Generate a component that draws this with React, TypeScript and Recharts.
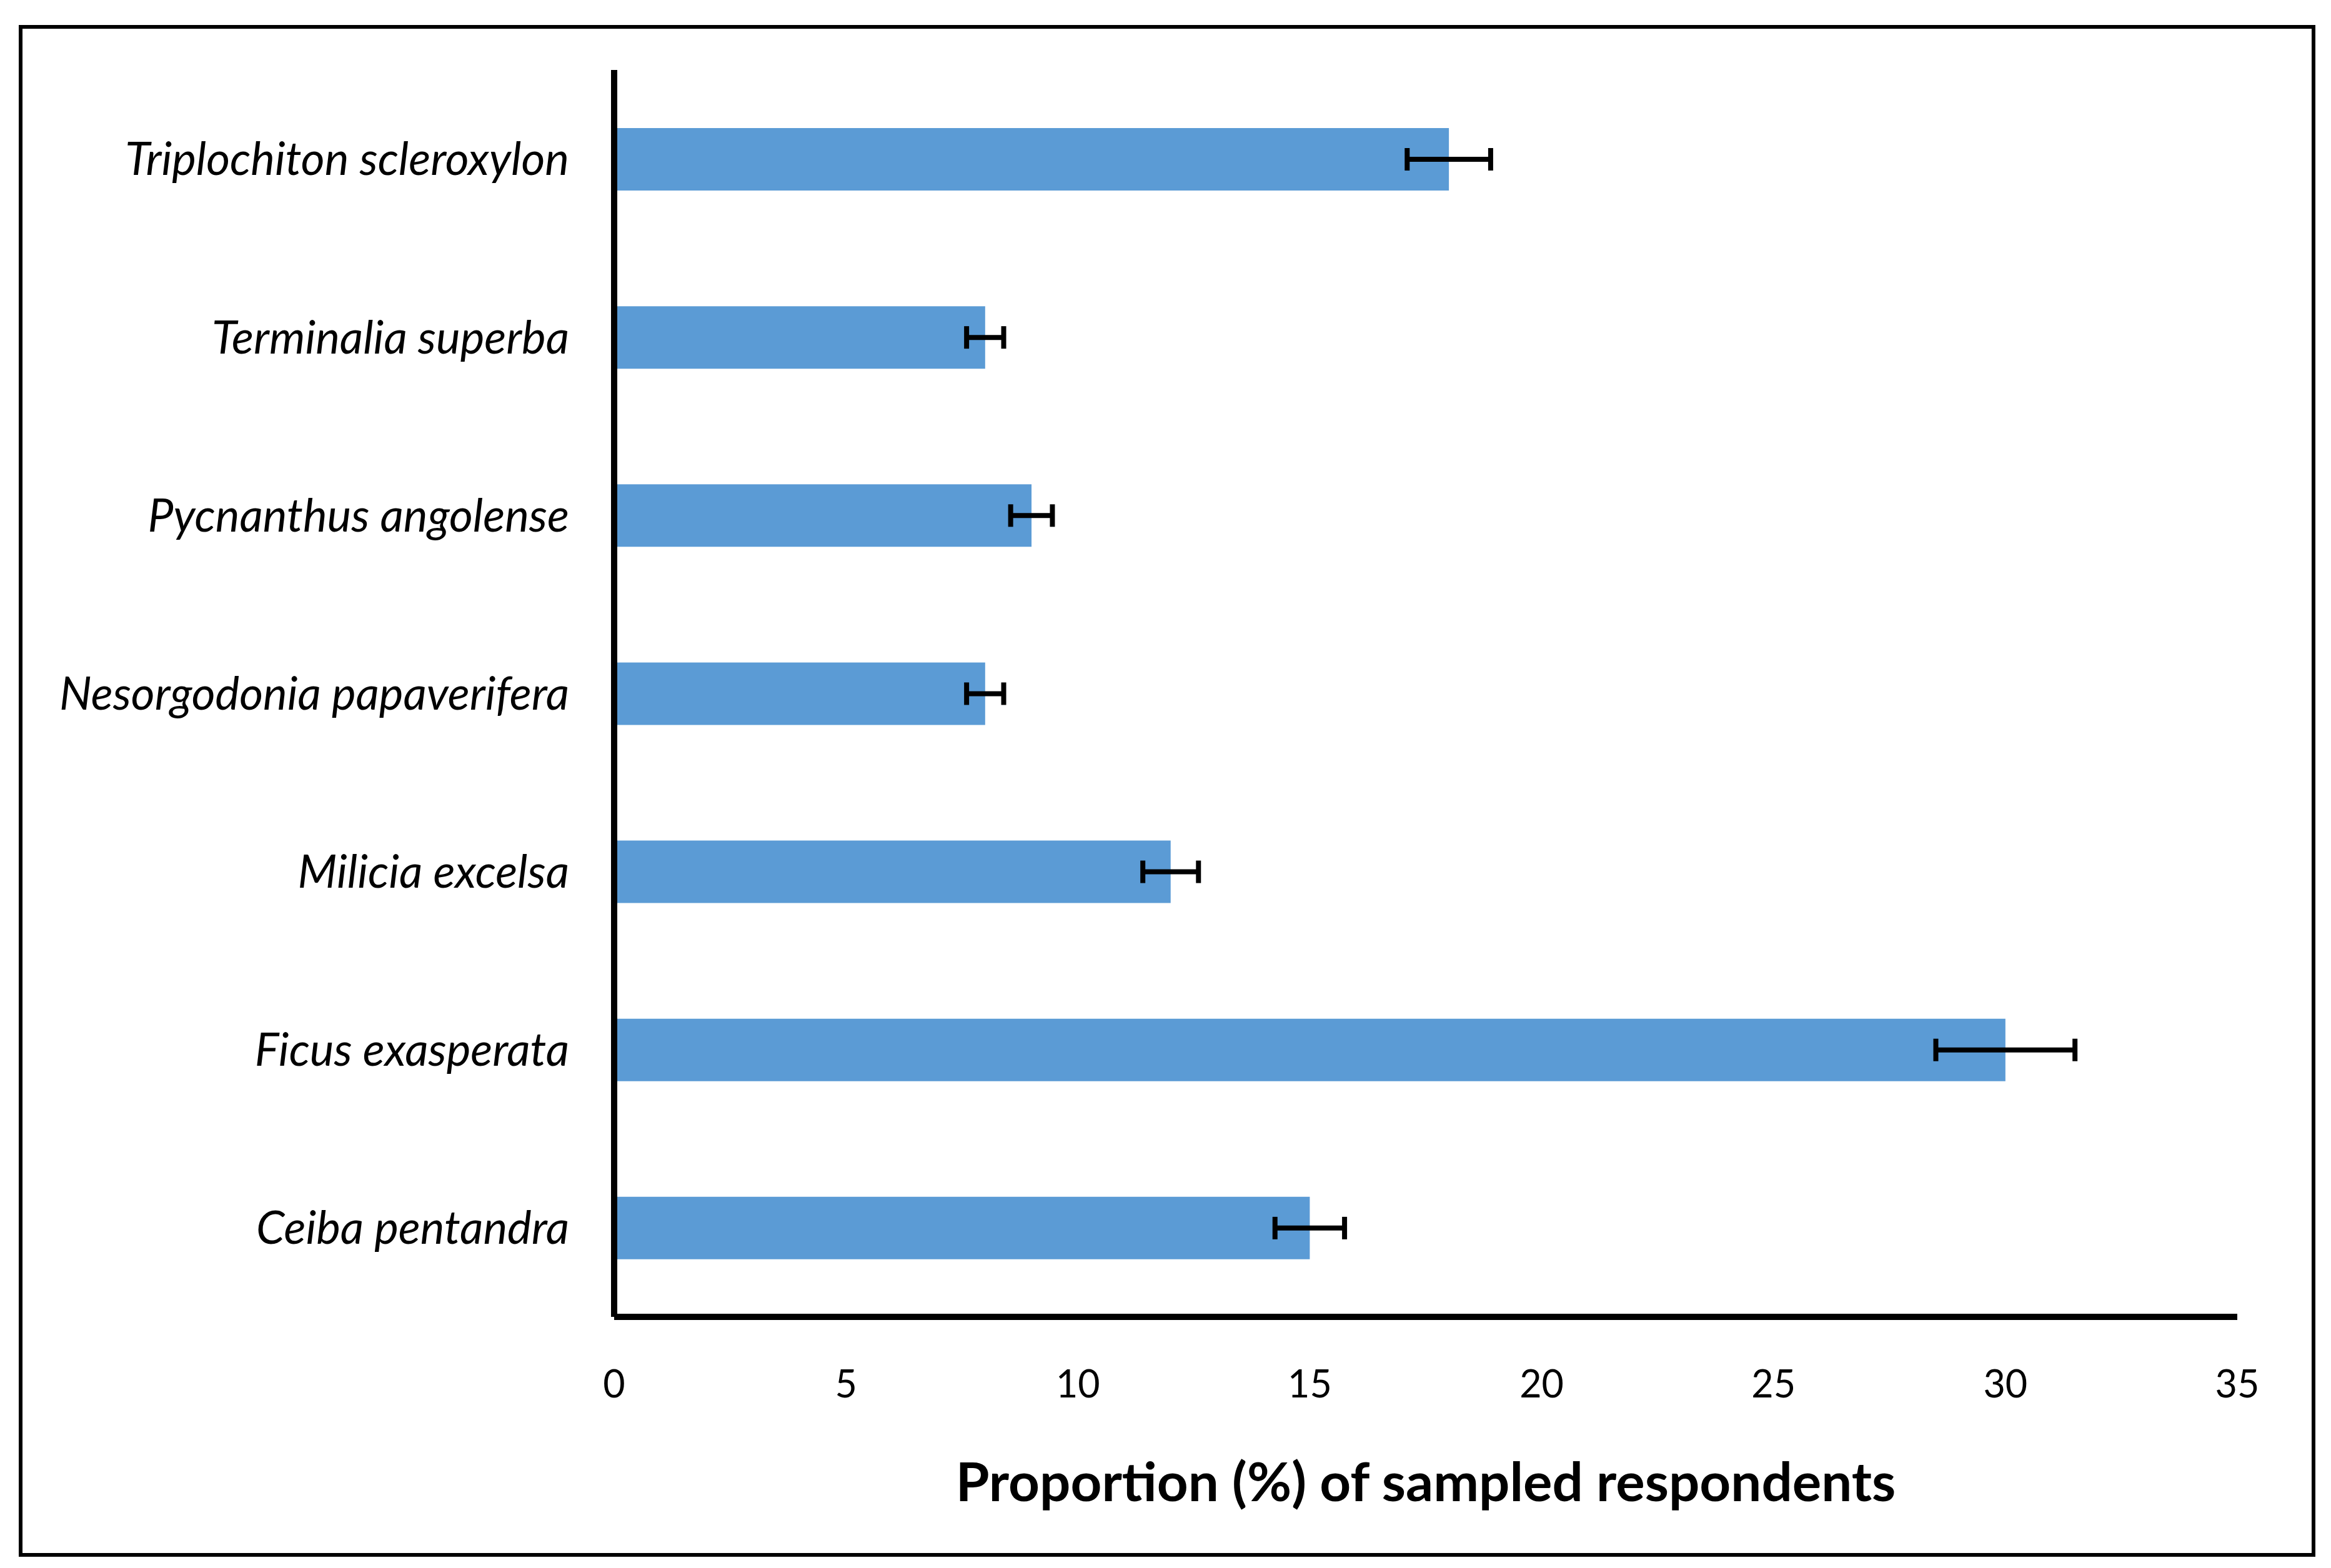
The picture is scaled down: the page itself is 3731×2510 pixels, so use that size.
import React from 'react';
import { BarChart, Bar, XAxis, YAxis, ErrorBar, Label } from 'recharts';

const species = [
  'Triplochiton scleroxylon',
  'Terminalia superba',
  'Pycnanthus angolense',
  'Nesorgodonia papaverifera',
  'Milicia excelsa',
  'Ficus exasperata',
  'Ceiba pentandra',
];
const proportions = [18, 8, 9, 8, 12, 30, 15];
const errors = [0.9, 0.4, 0.45, 0.4, 0.6, 1.5, 0.75];
const xTicks = [0, 5, 10, 15, 20, 25, 30, 35];

const data = species.map((name, i) => ({ name, value: proportions[i], err: errors[i] }));

const FONT = 'Lato, "Open Sans", sans-serif';

export default function App() {
  return (
    <div style={{ position: 'absolute', left: 0, top: 0, width: 3731, height: 2510, background: '#fff' }}>
      <div
        style={{
          position: 'absolute',
          left: 30,
          top: 40,
          width: 3676,
          height: 2452,
          border: '6px solid #000',
          boxSizing: 'border-box',
        }}
      />
      <BarChart
        width={3731}
        height={2510}
        data={data}
        layout="vertical"
        margin={{ top: 112, right: 150, bottom: 372, left: 0 }}
        barCategoryGap="32%"
        style={{ position: 'absolute', left: 0, top: 0 }}
      >
        <XAxis
          type="number"
          domain={[0, 35]}
          ticks={xTicks}
          interval={0}
          axisLine={{ stroke: '#000', strokeWidth: 10 }}
          tickLine={false}
          tickSize={0}
          tickMargin={86}
          height={30}
          tick={{ fill: '#000', fontSize: 61, fontFamily: FONT }}
        >
          <Label
            value="Proportion (%) of sampled respondents"
            position="bottom"
            offset={203}
            style={{ fill: '#000', fontSize: 87, fontWeight: 700, fontFamily: FONT }}
          />
        </XAxis>
        <YAxis
          type="category"
          dataKey="name"
          width={983}
          axisLine={{ stroke: '#000', strokeWidth: 10 }}
          tickLine={false}
          tickSize={0}
          tickMargin={72}
          interval={0}
          tick={{ fill: '#000', fontSize: 73, fontStyle: 'italic', fontFamily: FONT }}
        />
        <Bar dataKey="value" fill="#5B9BD5" barSize={100} isAnimationActive={false}>
          <ErrorBar dataKey="err" direction="x" width={18} stroke="#000" strokeWidth={8} />
        </Bar>
      </BarChart>
    </div>
  );
}
